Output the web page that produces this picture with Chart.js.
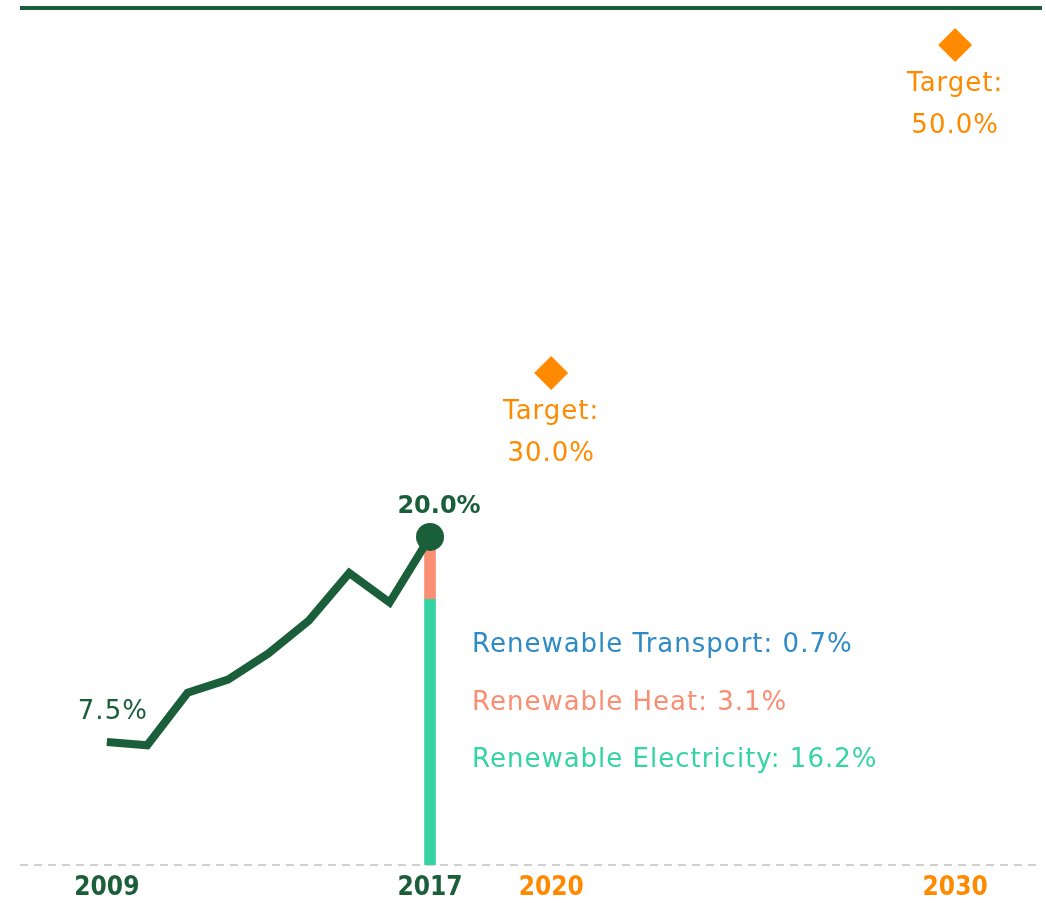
<!DOCTYPE html>
<html>
<head>
<meta charset="utf-8">
<script src="https://cdn.jsdelivr.net/npm/chart.js@4"></script>
<style>
  html, body { margin: 0; padding: 0; background: #fff; }
  canvas { display: block; }
</style>
</head>
<body>
<canvas id="chart" width="1046" height="903"></canvas>
<script>
// data
const years = [2009, 2010, 2011, 2012, 2013, 2014, 2015, 2016, 2017];
const shareValues = [7.5, 7.3, 10.5, 11.3, 12.9, 14.9, 17.8, 16.0, 20.0];
const barYear = 2017;
const electricity = [16.2];
const heat = [3.1];
const transport = [0.7];
const targetYears = [2020, 2030];
const targetValues = [30.0, 50.0];
const tickYears = [2009, 2017, 2020, 2030];

const green = '#1b5e3a';
const orange = '#ff8a00';
const teal = '#36d3a3';
const salmon = '#fa8e72';
const blue = '#2e8bc6';
const bodyFont = '"DejaVu Sans", sans-serif';

// top line + dashed baseline + text labels
const annotations = {
  id: 'annotations',
  beforeDatasetsDraw(chart) {
    const { ctx, chartArea, scales } = chart;
    const y0 = scales.y.getPixelForValue(0);
    ctx.save();
    ctx.strokeStyle = '#d0d0d0';
    ctx.lineWidth = 2;
    ctx.setLineDash([8, 6]);
    ctx.beginPath();
    ctx.moveTo(chartArea.left, y0);
    ctx.lineTo(chartArea.right, y0);
    ctx.stroke();
    ctx.setLineDash([]);
    ctx.strokeStyle = green;
    ctx.lineWidth = 4;
    ctx.beginPath();
    ctx.moveTo(chartArea.left, chartArea.top);
    ctx.lineTo(chartArea.right, chartArea.top);
    ctx.stroke();
    ctx.restore();
  },
  afterDatasetsDraw(chart) {
    const { ctx, scales } = chart;
    const x = scales.x, y = scales.y;
    ctx.save();
    ctx.textAlign = 'center';
    ctx.textBaseline = 'middle';

    ctx.fillStyle = green;
    ctx.font = 'bold 24px ' + bodyFont;
    const last = shareValues.length - 1;
    ctx.fillText(shareValues[last].toFixed(1) + '%', x.getPixelForValue(years[last]) + 9, y.getPixelForValue(shareValues[last]) - 30);

    ctx.letterSpacing = '1px';
    ctx.font = '26px ' + bodyFont;
    ctx.fillText(shareValues[0].toFixed(1) + '%', x.getPixelForValue(years[0]) + 6, y.getPixelForValue(shareValues[0]) - 30);

    ctx.fillStyle = orange;
    targetYears.forEach((yr, i) => {
      const px = x.getPixelForValue(yr);
      const py = y.getPixelForValue(targetValues[i]);
      ctx.fillText('Target:', px, py + 39);
      ctx.fillText(targetValues[i].toFixed(1) + '%', px, py + 81);
    });

    ctx.textAlign = 'left';
    const lx = x.getPixelForValue(barYear) + 42;
    ctx.fillStyle = blue;
    ctx.fillText('Renewable Transport: ' + transport[0].toFixed(1) + '%', lx, 645);
    ctx.fillStyle = salmon;
    ctx.fillText('Renewable Heat: ' + heat[0].toFixed(1) + '%', lx, 703);
    ctx.fillStyle = teal;
    ctx.fillText('Renewable Electricity: ' + electricity[0].toFixed(1) + '%', lx, 760);
    ctx.restore();
  }
};

const ctx = document.getElementById('chart').getContext('2d');
new Chart(ctx, {
  data: {
    datasets: [
      {
        type: 'line',
        label: 'Renewable share',
        data: years.map((yr, i) => ({ x: yr, y: shareValues[i] })),
        borderColor: green,
        backgroundColor: green,
        borderWidth: 8,
        tension: 0,
        stack: 'line',
        order: 0,
        pointRadius: years.map((yr, i) => i === years.length - 1 ? 14 : 0),
        pointBorderWidth: 0,
        pointHoverRadius: 0
      },
      {
        type: 'bar',
        label: 'Renewable Electricity',
        data: [{ x: barYear, y: electricity[0] }],
        backgroundColor: teal,
        barThickness: 11,
        stack: 'bar',
        order: 1
      },
      {
        type: 'bar',
        label: 'Renewable Heat',
        data: [{ x: barYear, y: heat[0] }],
        backgroundColor: salmon,
        barThickness: 11,
        stack: 'bar',
        order: 1
      },
      {
        type: 'bar',
        label: 'Renewable Transport',
        data: [{ x: barYear, y: transport[0] }],
        backgroundColor: blue,
        barThickness: 11,
        stack: 'bar',
        order: 1
      },
      {
        type: 'scatter',
        label: 'Target',
        data: targetYears.map((yr, i) => ({ x: yr, y: targetValues[i] })),
        backgroundColor: orange,
        borderColor: orange,
        pointStyle: 'rectRot',
        pointRadius: 17,
        pointBorderWidth: 0,
        stack: 'target',
        order: 0
      }
    ]
  },
  options: {
    responsive: false,
    animation: false,
    events: [],
    layout: { autoPadding: false, padding: { left: 20, right: 4, top: 8, bottom: 0 } },
    plugins: { legend: { display: false }, tooltip: { enabled: false } },
    scales: {
      x: {
        type: 'linear',
        offset: false,
        min: 2006.85,
        max: 2032.15,
        grid: { display: false, drawTicks: false, offset: false },
        border: { display: false },
        afterBuildTicks: (axis) => { axis.ticks = tickYears.map(v => ({ value: v })); },
        afterFit: (axis) => { axis.height = 38; },
        ticks: {
          padding: 10,
          autoSkip: false,
          maxRotation: 0,
          font: { family: '"DejaVu Sans Condensed", "DejaVu Sans", sans-serif', size: 26, weight: 'bold', lineHeight: 1 },
          color: (c) => c.tick && c.tick.value <= barYear ? green : orange,
          callback: (v) => String(v)
        }
      },
      y: {
        display: false,
        stacked: true,
        min: 0,
        max: 52.25
      }
    }
  },
  plugins: [annotations]
});
</script>
</body>
</html>
